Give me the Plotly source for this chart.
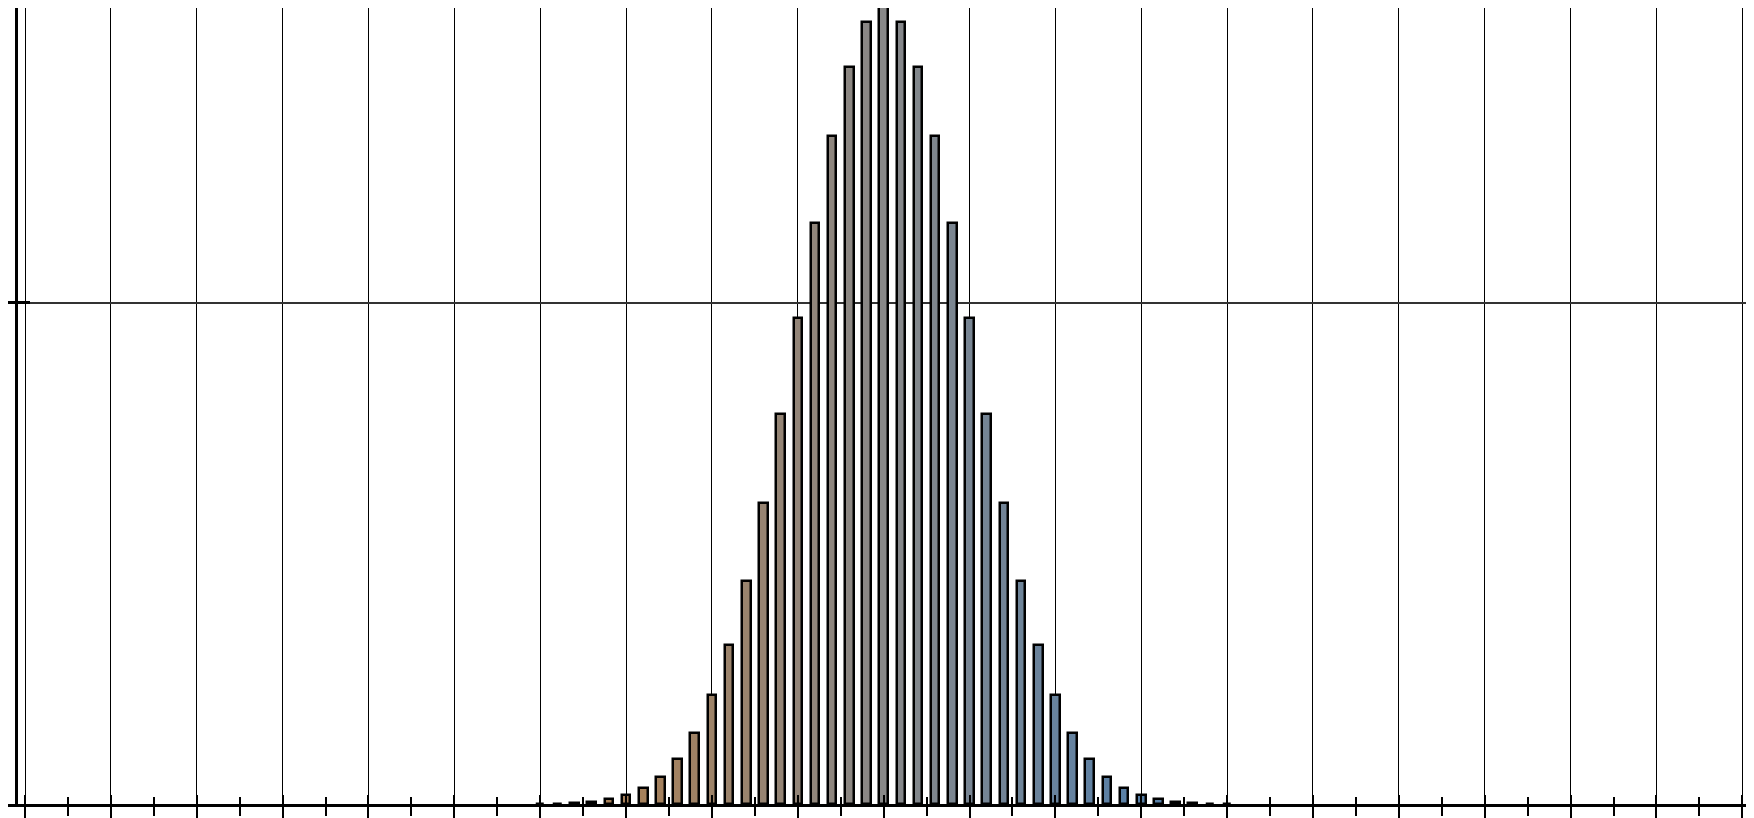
import plotly.graph_objects as go

# Data (bar heights, probability)
successes = list(range(30, 71))
probability = [
    0.00002, 0.00005, 0.00011, 0.00023, 0.00046, 0.00086, 0.00157, 0.00271,
    0.00448, 0.00711, 0.01084, 0.01587, 0.02229, 0.03007, 0.03895, 0.04847,
    0.05796, 0.06659, 0.07353, 0.07803, 0.07959, 0.07803, 0.07353, 0.06659,
    0.05796, 0.04847, 0.03895, 0.03007, 0.02229, 0.01587, 0.01084, 0.00711,
    0.00448, 0.00271, 0.00157, 0.00086, 0.00046, 0.00023, 0.00011, 0.00005,
    0.00002,
]
y_tick_values = [0.05]

# the page places the figure 8px in from the window's top-left corner
X_RANGE = [-0.990, 100.68]
Y_RANGE = [0, 0.0794]
Y_AXIS_AT = -0.5


def bar_color(x):
    brown = (168, 128, 88)
    gray = (136, 136, 136)
    blue = (88, 128, 168)
    t = max(-1.0, min(1.0, (x - 50) / 15.0))
    if t < 0:
        a, b, f = gray, brown, -t
    else:
        a, b, f = gray, blue, t
    c = [round(a[i] + (b[i] - a[i]) * f) for i in range(3)]
    return f"rgb({c[0]},{c[1]},{c[2]})"


colors = [bar_color(x) for x in successes]

fig = go.Figure()
fig.add_trace(go.Bar(
    x=successes, y=probability, width=0.5,
    marker=dict(color=colors, line=dict(color="black", width=2.5)),
    showlegend=False, hoverinfo="skip",
))
# invisible trace hosting the overlay axes (ticks that cross the axis lines)
fig.add_trace(go.Scatter(x=[None], y=[None], xaxis="x2", yaxis="y2",
                         showlegend=False, hoverinfo="skip"))

ypos = (Y_AXIS_AT - X_RANGE[0]) / (X_RANGE[1] - X_RANGE[0])

fig.update_layout(
    width=1746, height=810,
    margin=dict(l=0, r=0, t=0, b=14),
    paper_bgcolor="white", plot_bgcolor="white",
    bargap=0,
    xaxis=dict(
        range=X_RANGE, tick0=0, dtick=5,
        showgrid=True, gridcolor="black", gridwidth=1,
        zeroline=False,
        showline=True, linecolor="black", linewidth=3,
        ticks="outside", ticklen=12, tickwidth=2, tickcolor="black",
        minor=dict(ticks="outside", tick0=0, dtick=2.5, ticklen=9,
                   tickwidth=2, tickcolor="black", showgrid=False),
        showticklabels=False, automargin=False,
        layer="above traces",
    ),
    xaxis2=dict(
        range=X_RANGE, overlaying="x", anchor="y", side="bottom",
        tick0=0, dtick=5, showgrid=False, zeroline=False, showline=False,
        ticks="inside", ticklen=9, tickwidth=2, tickcolor="black",
        minor=dict(ticks="inside", tick0=0, dtick=2.5, ticklen=7,
                   tickwidth=2, tickcolor="black", showgrid=False),
        showticklabels=False, automargin=False,
    ),
    yaxis=dict(
        range=Y_RANGE, anchor="free", position=ypos,
        tickvals=y_tick_values,
        showgrid=True, gridcolor="#333333", gridwidth=1.5,
        zeroline=False,
        showline=True, linecolor="black", linewidth=3,
        ticks="outside", ticklen=8, tickwidth=3, tickcolor="black",
        showticklabels=False, automargin=False,
    ),
    yaxis2=dict(
        range=Y_RANGE, overlaying="y", anchor="free", position=ypos,
        tickvals=y_tick_values, showgrid=False, zeroline=False,
        showline=False, ticks="inside", ticklen=13, tickwidth=3,
        tickcolor="black", showticklabels=False, automargin=False,
    ),
)

fig.write_html("out.html")
